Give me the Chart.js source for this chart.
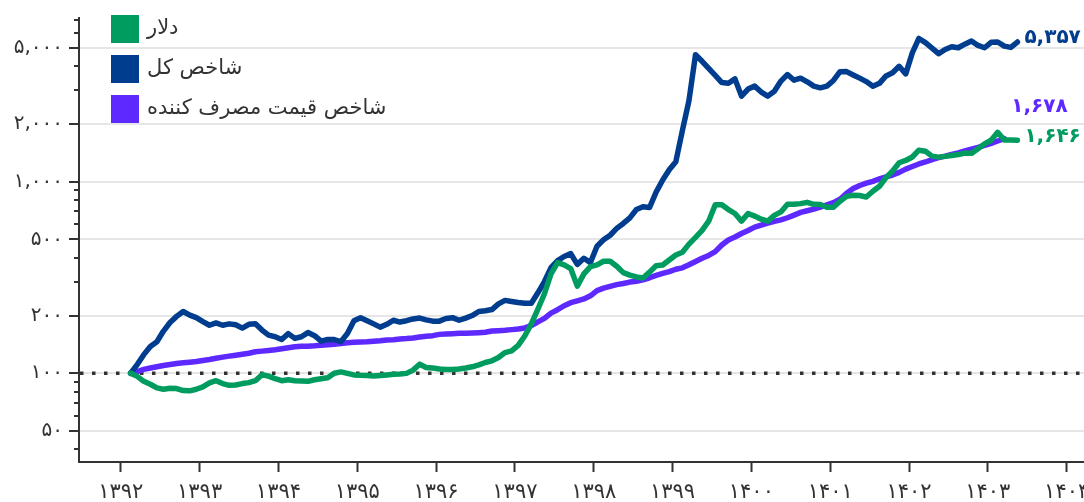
<!DOCTYPE html>
<html lang="fa">
<head>
<meta charset="UTF-8">
<title>دلار، شاخص کل و شاخص قیمت مصرف کننده</title>
<script src="https://cdn.jsdelivr.net/npm/chart.js@4.4.1/dist/chart.umd.min.js"></script>
<style>
  html, body { margin: 0; padding: 0; background: #fff; }
</style>
</head>
<body>
<canvas id="chart" width="1084" height="502"></canvas>
<script>
// monthly series, index = 100 at the first month (Ordibehesht 1392)
const firstYear = 1392, firstMonth = 2;

const dollar = [
  100, 96.3, 90.7, 87.6, 83.8, 82.5, 83.5, 83.2, 81.2, 80.9,
  82.5, 84.9, 89, 91.4, 88.3, 86.5, 86.8, 88.3, 89.3, 91.4,
  98.2, 96.6, 93.6, 91.4, 92.5, 91.4, 91, 90.7, 92.5, 93.6,
  94.7, 100, 101.6, 99.8, 98, 97.6, 97.4, 96.6, 97.4, 98,
  98.7, 99, 99.8, 103.8, 111.5, 107.2, 106.4, 105.2, 104.7, 104.7,
  105.2, 106.4, 108, 110.6, 113.8, 116.1, 120.8, 128.2, 130.8, 139.8,
  156.4, 181, 216, 260, 330, 378, 368, 352, 285, 330,
  360, 368, 384, 384, 362, 335, 325, 318, 314, 337,
  364, 367, 390, 414, 428, 472, 512, 557, 622, 757,
  757, 715, 682, 622, 682, 661, 637, 622, 667, 695,
  762, 762, 768, 780, 762, 760, 735, 735, 790, 838,
  850, 847, 831, 891, 946, 1050, 1137, 1255, 1290, 1345,
  1460, 1440, 1359, 1343, 1355, 1370, 1387, 1410, 1405, 1484,
  1575, 1645, 1810, 1650, 1648, 1646
];

const stockIndex = [
  100, 111, 125, 138, 146, 166, 184, 198, 210, 201,
  195, 186, 178, 183, 178, 181, 179, 172, 180, 181,
  168, 158, 155, 150, 161, 152, 155, 163, 157, 147,
  150, 150, 146, 161, 188, 195, 188, 181, 174, 180,
  189, 185, 188, 192, 194, 190, 187, 187, 193, 195,
  189, 194, 200, 210, 212, 215, 230, 240, 237, 234,
  232, 232, 263, 301, 356, 387, 407, 421, 370, 398,
  378, 460, 497, 525, 570, 605, 647, 716, 740, 733,
  882, 1020, 1155, 1270, 1850, 2650, 4600, 4250, 3900, 3590,
  3290, 3265, 3440, 2795, 3045, 3152, 2935, 2795, 2965, 3350,
  3625, 3385, 3470, 3320, 3152, 3090, 3152, 3375, 3750, 3755,
  3607, 3470, 3330, 3150, 3260, 3565, 3700, 4000, 3650, 4700,
  5590, 5320, 4980, 4655, 4900, 5060, 5000, 5220, 5420, 5140,
  5000, 5340, 5360, 5100, 5020, 5357
];

const cpi = [
  100, 102, 104.7, 106.4, 108, 109.8, 111, 112.4, 113.3, 114.2,
  115.1, 116.5, 118, 119.8, 121.3, 122.8, 124.2, 125.7, 127.2, 129.4,
  130.4, 131.5, 132.6, 134.2, 135.8, 137.3, 138.4, 138.4, 139, 140,
  140.7, 141.6, 143, 144.2, 144.9, 145.5, 146, 146.8, 147.6, 149.1,
  149.6, 150.9, 151.6, 152.6, 154.5, 155.8, 157.1, 159.5, 160.2, 160.8,
  161.5, 161.5, 162.1, 162.8, 163.5, 166, 166.7, 167.5, 168.9, 170.3,
  172.4, 177.1, 185.4, 193.4, 206, 214.6, 225, 233.4, 238.6, 244.1,
  253.5, 270, 278, 284, 290, 294, 299, 302, 307, 315,
  324, 332, 339, 349, 355, 368, 383, 398, 412, 431,
  467, 496, 514, 536, 556, 579, 593, 607, 620, 632,
  648, 669, 691, 705, 719, 736, 756, 777, 810, 870,
  920, 955, 982, 1004, 1033, 1058, 1083, 1118, 1163, 1200,
  1237, 1267, 1303, 1335, 1359, 1387, 1414, 1448, 1480, 1510,
  1545, 1585, 1630, 1678
];

const yearTicks = [1392, 1393, 1394, 1395, 1396, 1397, 1398, 1399, 1400, 1401, 1402, 1403, 1404];
const yTicks = [40, 50, 60, 70, 80, 90, 100, 200, 300, 400, 500, 600, 700, 800, 900,
                1000, 2000, 3000, 4000, 5000, 6000, 7000];
const yLabelled = [50, 100, 200, 500, 1000, 2000, 5000];
const baseValue = 100;

// x position of each month (middle of the month, in years)
const months = dollar.map((_, i) => firstYear + (firstMonth - 1 + i + 0.5) / 12);

const FONT = '"DejaVu Sans", "Noto Sans", sans-serif';
const INK = '#333333';

const faDigits = s => String(s).replace(/\d/g, d => '۰۱۲۳۴۵۶۷۸۹'[d]);
const faNumber = n => faDigits(String(n).replace(/\B(?=(\d{3})+(?!\d))/g, ','));

const series = [
  { label: 'دلار', values: dollar, color: '#009c5f', shift: -3 },
  { label: 'شاخص کل', values: stockIndex, color: '#003d8f', shift: -4 },
  { label: 'شاخص قیمت مصرف کننده', values: cpi, color: '#5d29ff', shift: -32 }
];

const extras = {
  id: 'extras',
  beforeDatasetsDraw(chart) {
    const { ctx, chartArea: a, scales: { y } } = chart;
    ctx.save();
    ctx.strokeStyle = INK;
    ctx.lineWidth = 2;
    // short minor ticks
    y.ticks.forEach(t => {
      if (yLabelled.includes(t.value)) return;
      const py = Math.round(y.getPixelForValue(t.value));
      ctx.beginPath();
      ctx.moveTo(a.left - 5, py);
      ctx.lineTo(a.left, py);
      ctx.stroke();
    });
    // dotted base line at 100
    const by = y.getPixelForValue(baseValue);
    ctx.setLineDash([3.5, 8.5]);
    ctx.lineWidth = 3.5;
    ctx.beginPath();
    ctx.moveTo(a.left + 1, by);
    ctx.lineTo(a.right, by);
    ctx.stroke();
    ctx.restore();
  },
  afterDatasetsDraw(chart) {
    const ctx = chart.ctx;
    ctx.save();
    // end values
    ctx.font = 'bold 20px ' + FONT;
    ctx.textAlign = 'left';
    ctx.textBaseline = 'middle';
    series.forEach((s, i) => {
      const pts = chart.getDatasetMeta(i).data;
      const p = pts[pts.length - 1];
      ctx.fillStyle = s.color;
      ctx.fillText(faNumber(s.values[s.values.length - 1]), p.x + 7, p.y + s.shift);
    });
    // legend
    ctx.font = '21px ' + FONT;
    series.forEach((s, i) => {
      ctx.fillStyle = s.color;
      ctx.fillRect(111, 15 + i * 40, 28, 28);
      ctx.fillStyle = INK;
      ctx.fillText(s.label, 147, 29 + i * 40);
    });
    ctx.restore();
  }
};

new Chart(document.getElementById('chart'), {
  type: 'line',
  data: {
    datasets: series.map(s => ({
      label: s.label,
      data: s.values.map((v, i) => ({ x: months[i], y: v })),
      borderColor: s.color,
      backgroundColor: s.color,
      borderWidth: 5.5,
      pointRadius: 0,
      tension: 0,
      borderJoinStyle: 'round',
      borderCapStyle: 'round',
      fill: false
    }))
  },
  options: {
    responsive: false,
    animation: false,
    layout: { padding: { top: 14, right: 0, bottom: 0, left: 0 } },
    plugins: { legend: { display: false }, tooltip: { enabled: false } },
    scales: {
      x: {
        type: 'linear',
        min: 1391.47,
        max: 1404.22,
        afterBuildTicks: s => { s.ticks = yearTicks.map(v => ({ value: v })); },
        afterFit: s => { s.height = 40; s.paddingLeft = 0; s.paddingRight = 0; },
        border: { color: INK, width: 2 },
        grid: { drawOnChartArea: false, tickLength: 10, tickColor: INK, tickWidth: 2 },
        ticks: {
          autoSkip: false, maxRotation: 0, padding: 8, color: INK,
          font: { family: FONT, size: 21 },
          callback: v => faDigits(v)
        }
      },
      y: {
        type: 'logarithmic',
        min: 34.4,
        max: 7150,
        afterBuildTicks: s => { s.ticks = yTicks.map(v => ({ value: v })); },
        afterFit: s => { s.width = 79; },
        border: { color: INK, width: 2 },
        grid: {
          color: c => yLabelled.includes(c.tick && c.tick.value) ? '#e6e6e6' : 'rgba(0,0,0,0)',
          lineWidth: 2,
          tickLength: 10,
          tickColor: c => yLabelled.includes(c.tick && c.tick.value) ? INK : 'rgba(0,0,0,0)',
          tickWidth: 2
        },
        ticks: {
          autoSkip: false, padding: 6, color: INK,
          font: { family: FONT, size: 20 },
          callback: v => yLabelled.includes(v) ? faNumber(v) : ''
        }
      }
    }
  },
  plugins: [extras]
});
</script>
</body>
</html>
